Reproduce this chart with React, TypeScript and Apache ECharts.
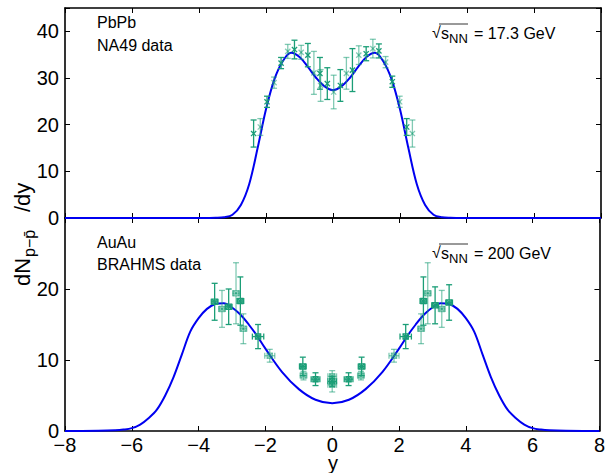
import React, { useEffect, useRef } from 'react';
import * as echarts from 'echarts';

// Model curve, PbPb (17.3 GeV)
const topCurveX = [-8, -4.5, -4, -3.75, -3.5, -3.25, -3, -2.75, -2.5, -2.25, -2, -1.75, -1.5, -1.25, -1, -0.75, -0.5, -0.25, 0,
  0.25, 0.5, 0.75, 1, 1.25, 1.5, 1.75, 2, 2.25, 2.5, 2.75, 3, 3.25, 3.5, 3.75, 4, 4.5, 8];
const topCurveV = [0, 0, 0, 0.01, 0.03, 0.15, 0.7, 2.8, 7.3, 15.0, 23.3, 29.7, 33.6, 35.4, 34.5, 32.4, 30.0, 28.2, 27.4,
  28.2, 30.0, 32.4, 34.5, 35.4, 33.6, 29.7, 23.3, 15.0, 7.3, 2.8, 0.7, 0.15, 0.03, 0.01, 0, 0, 0];

// Model curve, AuAu (200 GeV)
const botCurveX = [-8, -7.5, -7, -6.5, -6.25, -6, -5.75, -5.5, -5.25, -5, -4.75, -4.5, -4.25, -4, -3.75, -3.5, -3.25, -3,
  -2.75, -2.5, -2.25, -2, -1.5, -1, -0.5, 0,
  0.5, 1, 1.5, 2, 2.25, 2.5, 2.75, 3, 3.25, 3.5, 3.75, 4, 4.25, 4.5, 4.75, 5, 5.25, 5.5, 5.75, 6, 6.25, 6.5, 7, 7.5, 8];
const botCurveV = [0, 0, 0.02, 0.1, 0.2, 0.4, 0.9, 1.8, 3.0, 5.0, 7.6, 10.8, 14.0, 15.9, 17.2, 17.9, 18.0, 17.4,
  16.4, 15.0, 13.4, 11.6, 8.3, 5.9, 4.4, 3.9,
  4.4, 5.9, 8.3, 11.6, 13.4, 15.0, 16.4, 17.4, 18.0, 17.9, 17.2, 15.9, 14.0, 10.8, 7.6, 5.0, 3.0, 1.8, 0.9, 0.4, 0.2, 0.1, 0.02, 0, 0];

// NA49 data
const na49Y = [-2.37, -2.17, -1.97, -1.76, -1.55, -1.35, -1.15, -0.95, -0.75, -0.57, -0.39, -0.37, -0.17, 0.02,
  0.22, 0.40, 0.58, 0.77, 0.99, 1.19, 1.37, 1.57, 1.77, 1.99, 2.20, 2.37];
const na49V = [18.1, 19.5, 24.9, 29.0, 33.2, 35.7, 36.1, 35.5, 34.9, 31.1, 31.0, 28.4, 28.8, 27.0,
  28.4, 31.0, 31.7, 34.9, 35.2, 36.3, 35.8, 33.4, 29.2, 24.9, 19.5, 18.1];
const na49E = [2.9, 1.8, 1.2, 1.2, 1.2, 1.5, 2.0, 1.5, 2.5, 4.6, 3.4, 3.4, 3.4, 3.6,
  3.4, 3.4, 4.6, 2.0, 1.5, 2.0, 1.5, 1.2, 1.2, 1.2, 1.8, 2.9];

// BRAHMS data
const brY = [-3.52, -3.3, -3.1, -2.88, -2.75, -2.66, -2.22, -1.87, -0.88, -0.86, -0.5, 0, 0, 0,
  0.49, 0.86, 0.88, 1.85, 2.2, 2.66, 2.73, 2.86, 3.08, 3.28, 3.5];
const brV = [18.2, 17.2, 17.5, 19.4, 18.3, 14.4, 13.3, 10.6, 9.1, 7.8, 7.3, 7.7, 7.0, 6.5,
  7.3, 7.8, 9.1, 10.6, 13.3, 14.4, 18.3, 19.4, 17.7, 17.2, 18.1];
const brE = [2.6, 2.6, 2.5, 4.3, 3.4, 2.1, 1.7, 0.9, 1.3, 0.6, 0.9, 0.8, 0.7, 1.0,
  0.9, 0.6, 1.3, 0.9, 1.7, 2.1, 3.4, 4.3, 2.6, 2.6, 2.5];
const brXE = [0.1, 0.1, 0.1, 0.1, 0.1, 0.1, 0.17, 0.15, 0.1, 0.1, 0.13, 0.13, 0.13, 0.13,
  0.13, 0.1, 0.1, 0.15, 0.17, 0.1, 0.1, 0.1, 0.1, 0.1, 0.1];

const xTickInterval = 2;
const FONT = 'Liberation Sans, Arial, Helvetica, sans-serif';
const DARK = '#1b9e77';
const LIGHT = 'rgba(27,158,119,0.55)';
const BLUE = '#0000f0';

function errRender(box: boolean) {
  return (_params: any, api: any) => {
    const x = api.value(0), v = api.value(1), e = api.value(2), xe = api.value(3), light = api.value(4);
    const p = api.coord([x, v]);
    const t = api.coord([x, v + e]);
    const b = api.coord([x, v - e]);
    const color = light ? LIGHT : DARK;
    const st = { stroke: color, lineWidth: 1.3, fill: 'none' };
    const ch: any[] = [
      { type: 'line', shape: { x1: p[0], y1: t[1], x2: p[0], y2: b[1] }, style: st },
      { type: 'line', shape: { x1: p[0] - 3, y1: t[1], x2: p[0] + 3, y2: t[1] }, style: st },
      { type: 'line', shape: { x1: p[0] - 3, y1: b[1], x2: p[0] + 3, y2: b[1] }, style: st },
    ];
    if (xe > 0) {
      const l = api.coord([x - xe, v]);
      const r = api.coord([x + xe, v]);
      ch.push({ type: 'line', shape: { x1: l[0], y1: p[1], x2: r[0], y2: p[1] }, style: st });
      ch.push({ type: 'line', shape: { x1: l[0], y1: p[1] - 3, x2: l[0], y2: p[1] + 3 }, style: st });
      ch.push({ type: 'line', shape: { x1: r[0], y1: p[1] - 3, x2: r[0], y2: p[1] + 3 }, style: st });
    }
    const s = 2.6;
    ch.push({ type: 'line', shape: { x1: p[0] - s, y1: p[1] - s, x2: p[0] + s, y2: p[1] + s }, style: st });
    ch.push({ type: 'line', shape: { x1: p[0] - s, y1: p[1] + s, x2: p[0] + s, y2: p[1] - s }, style: st });
    if (box) {
      ch.push({ type: 'rect', shape: { x: p[0] - s, y: p[1] - s, width: 2 * s, height: 2 * s }, style: st });
    }
    return { type: 'group', children: ch };
  };
}

function txt(text: string, x: number, y: number, size: number, align = 'left'): any {
  return {
    type: 'text', x, y, z: 50,
    style: {
      text, fill: '#000', font: `${size}px ${FONT}`,
      textAlign: align, align, textVerticalAlign: 'middle', verticalAlign: 'middle',
    },
  };
}

function sqrtLabel(x: number, y: number, rest: string): any[] {
  return [
    txt('√', x, y - 1, 16),
    txt('s', x + 9, y, 16),
    txt('NN', x + 17, y + 5, 13),
    txt(rest, x + 42, y, 16),
    { type: 'line', z: 50, shape: { x1: x + 7, y1: y - 9, x2: x + 36, y2: y - 9 }, style: { stroke: '#000', lineWidth: 0.8 } },
  ];
}

export default function App() {
  const ref = useRef<HTMLDivElement>(null);
  useEffect(() => {
    document.body.style.margin = '0';
    if (!ref.current) return;
    const chart = echarts.init(ref.current, undefined, { renderer: 'svg' });
    const fmt = (v: number) => String(v).replace('-', '−');
    const baseX = (grid: number, pos: 'top' | 'bottom', labels: boolean): any => ({
      type: 'value', gridIndex: grid, position: pos, min: -8, max: 8, interval: xTickInterval,
      axisLine: { show: true, onZero: false, lineStyle: { color: '#000', width: 1.6 } },
      axisTick: { show: true, inside: true, length: 5, lineStyle: { color: '#000', width: 1 } },
      axisLabel: { show: labels, formatter: fmt, color: '#000', fontSize: 20, fontFamily: FONT, margin: 4 },
      splitLine: { show: false },
    });
    const baseY = (grid: number, pos: 'left' | 'right', labels: boolean, max: number): any => ({
      type: 'value', gridIndex: grid, position: pos, min: 0, max, interval: 10,
      axisLine: { show: true, onZero: false, lineStyle: { color: '#000', width: 1.6 } },
      axisTick: { show: true, inside: true, length: 5, lineStyle: { color: '#000', width: 1 } },
      axisLabel: {
        show: labels, color: '#000', fontSize: 20, fontFamily: FONT, margin: 6,
        formatter: (v: number) => (v > 40 || (max === 30 && v === 30) ? '' : String(v)),
      },
      splitLine: { show: false },
    });
    chart.setOption({
      animation: false,
      backgroundColor: '#fff',
      grid: [
        { left: 65, right: 7, top: 8, height: 210 },
        { left: 65, right: 7, top: 218, height: 213 },
      ],
      xAxis: [baseX(0, 'bottom', false), baseX(0, 'top', false), baseX(1, 'bottom', true), baseX(1, 'top', false)],
      yAxis: [baseY(0, 'left', true, 45), baseY(0, 'right', false, 45), baseY(1, 'left', true, 30), baseY(1, 'right', false, 30)],
      series: [
        {
          type: 'line', xAxisIndex: 0, yAxisIndex: 0, showSymbol: false, smooth: 0.35, z: 3,
          lineStyle: { color: BLUE, width: 2 },
          data: topCurveX.map((x, i) => [x, topCurveV[i]]),
        },
        {
          type: 'line', xAxisIndex: 2, yAxisIndex: 2, showSymbol: false, smooth: 0.35, z: 3,
          lineStyle: { color: BLUE, width: 2 },
          data: botCurveX.map((x, i) => [x, botCurveV[i]]),
        },
        {
          type: 'custom', xAxisIndex: 0, yAxisIndex: 0, z: 4, renderItem: errRender(false),
          data: na49Y.map((x, i) => [x, na49V[i], na49E[i], 0, i % 2]),
        },
        {
          type: 'custom', xAxisIndex: 2, yAxisIndex: 2, z: 4, renderItem: errRender(true),
          data: brY.map((x, i) => [x, brV[i], brE[i], brXE[i], i % 2]),
        },
      ],
      graphic: [
        txt('PbPb', 97, 22, 16),
        txt('NA49 data', 97, 45, 16),
        txt('AuAu', 97, 242, 16),
        txt('BRAHMS data', 97, 264, 16),
        ...sqrtLabel(432, 33, '= 17.3 GeV'),
        ...sqrtLabel(432, 253, '= 200 GeV'),
        txt('y', 333, 463, 20, 'center'),
        {
          type: 'group', x: 22, y: 222, rotation: Math.PI / 2, z: 50,
          children: [
            txt('dN', -64, 0, 22),
            txt('p−p̄', -35, 7, 16),
            txt('/dy', 10, 0, 22),
          ],
        },
      ],
    });
    return () => chart.dispose();
  }, []);
  return <div ref={ref} style={{ width: 608, height: 473 }} />;
}
